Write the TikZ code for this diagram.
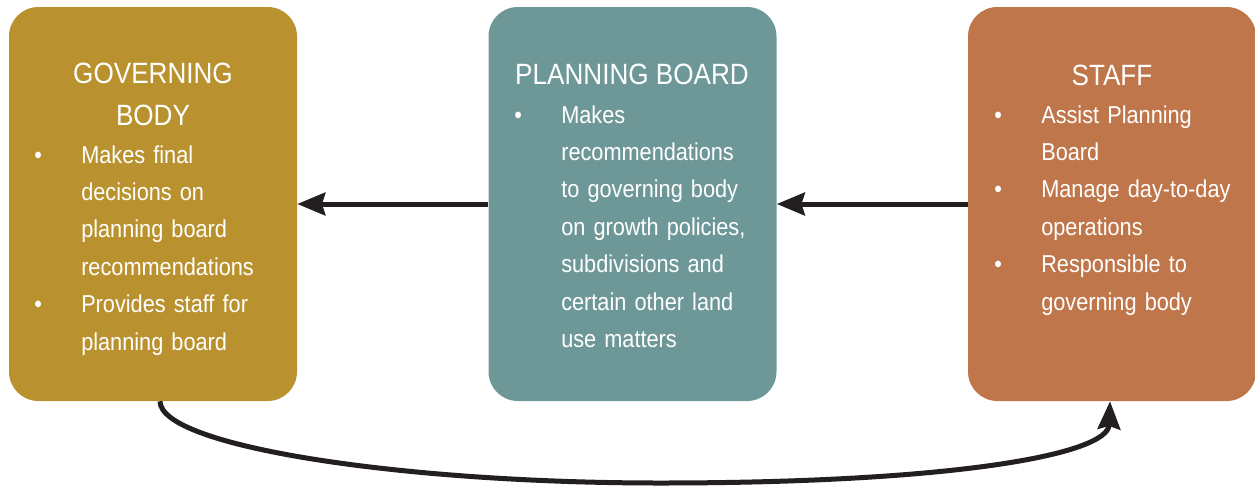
\documentclass[tikz,border=0pt]{standalone}
\usepackage{fontspec}
\setmainfont{Liberation Sans}[FakeStretch=0.89]
\usetikzlibrary{arrows.meta}

\definecolor{govgold}{HTML}{B9922F}
\definecolor{planteal}{HTML}{6E9898}
\definecolor{staffrust}{HTML}{C0764B}
\definecolor{arrowink}{HTML}{231F20}

\newcommand{\bul}{\leavevmode\llap{\textbullet\hspace{29.4pt}}}

\tikzset{
  box/.style={rectangle, rounded corners=22pt, minimum width=216pt, minimum height=295.5pt, inner sep=0pt},
  title/.style={anchor=base, align=center, text=white, inner sep=0pt,
    font=\fontsize{22pt}{31.5pt}\selectfont},
  body/.style={anchor=base west, align=left, text width=160pt, text=white, inner sep=0pt,
    font=\fontsize{18.3pt}{28.1pt}\selectfont},
  link/.style={draw=arrowink, line width=3.75pt,
    -{Stealth[length=21pt, width=17pt, inset=2.5pt]}}
}

\begin{document}
\begin{tikzpicture}[x=0.75pt, y=-0.75pt]
    \useasboundingbox (0,0) rectangle (1255,500);

    % Boxes
    \node[box, fill=govgold] (gov) at (153,204) {};
    \node[box, fill=planteal] (plan) at (632.5,204) {};
    \node[box, fill=staffrust] (staff) at (1112,204) {};

    % Titles
    \node[title] (govtitle) at (153,125) {GOVERNING\\BODY};
    \node[title] (plantitle) at (632,84) {PLANNING BOARD};
    \node[title] (stafftitle) at (1112,85) {STAFF};

    % Bullet lists
    \node[body] (govtext) at (81,163) {\bul Makes final\\decisions on\\planning board\\recommendations\\\bul Provides staff for\\planning board};
    \node[body] (plantext) at (561,123) {\bul Makes\\recommendations\\to governing body\\on growth policies,\\subdivisions and\\certain other land\\use matters};
    \node[body] (stafftext) at (1041,123) {\bul Assist Planning\\Board\\\bul Manage day-to-day\\operations\\\bul Responsible to\\governing body};

    % Connections
    \draw[link] (plan.west) -- (gov.east);
    \draw[link] (staff.west) -- (plan.east);
    \draw[link] ([xshift=5.25pt]gov.south) .. controls +(0,-33.75pt) and (400,483) .. (660,483)
        .. controls (950,483) and (1108,455) .. ([xshift=-1.5pt]staff.south);
\end{tikzpicture}
\end{document}
